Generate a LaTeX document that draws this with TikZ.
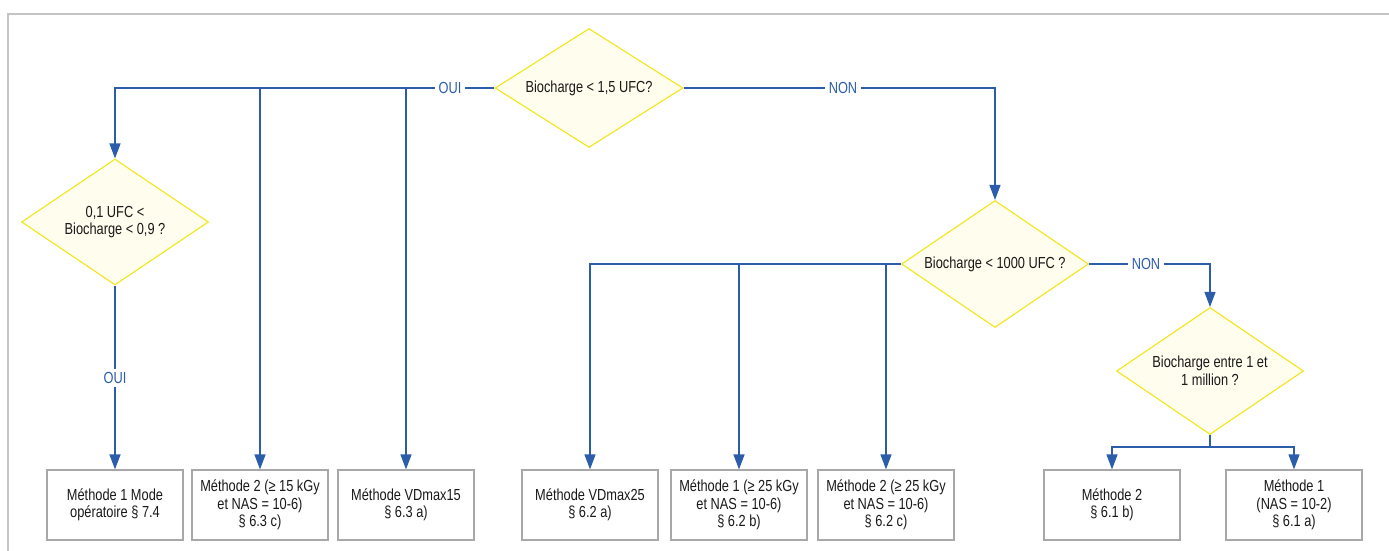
\documentclass[tikz,border=0pt]{standalone}
\usepackage{fontspec}
\setmainfont{Liberation Sans}[FakeStretch=0.8]
\usetikzlibrary{shapes.geometric,arrows.meta}
\definecolor{lineblue}{HTML}{2C5DAA}
\definecolor{dfill}{HTML}{FFFDEE}
\definecolor{dborder}{HTML}{F2E61A}
\definecolor{boxgray}{HTML}{A8A8A8}
\definecolor{framegray}{HTML}{C4C4C4}
\begin{document}
\begin{tikzpicture}[x=1pt,y=-1pt,
  every node/.style={font=\fontsize{16}{17.5}\selectfont},
  dec/.style={shape=diamond, aspect=1.5, draw=dborder, fill=dfill, line width=1.1pt, inner sep=0pt, align=center, text=black!90},
  res/.style={draw=boxgray, line width=1.2pt, minimum width=136pt, minimum height=70pt, inner sep=0pt, align=center, text=black!90},
  lab/.style={text=lineblue, inner sep=3.5pt},
  conn/.style={draw=lineblue, line width=1.3pt},
  arr/.style={conn, -{Triangle[length=15pt,width=11pt]}}]
\useasboundingbox (0,0) rectangle (1389,551);
\draw[framegray, line width=1.5pt] (8,551) -- (8,14) -- (1389,14);

% decisions
\node[dec, minimum width=188pt, minimum height=119pt] (d1) at (589,88) {Biocharge < 1,5 UFC?};
\node[dec, minimum width=187pt, minimum height=126pt] (d2) at (115,222) {0,1 UFC <\\Biocharge < 0,9 ?};
\node[dec, minimum width=187pt, minimum height=127pt] (d3) at (995,264) {Biocharge < 1000 UFC ?};
\node[dec, minimum width=187pt, minimum height=127pt] (d4) at (1210,371) {Biocharge entre 1 et\\1 million ?};

% results
\node[res] (b1) at (115,505) {Méthode 1 Mode\\opératoire § 7.4};
\node[res] (b2) at (260,505) {Méthode 2 (≥ 15 kGy\\et NAS = 10-6)\\§ 6.3 c)};
\node[res] (b3) at (406,505) {Méthode VDmax15\\§ 6.3 a)};
\node[res] (b4) at (590,505) {Méthode VDmax25\\§ 6.2 a)};
\node[res] (b5) at (739,505) {Méthode 1 (≥ 25 kGy\\et NAS = 10-6)\\§ 6.2 b)};
\node[res] (b6) at (886,505) {Méthode 2 (≥ 25 kGy\\et NAS = 10-6)\\§ 6.2 c)};
\node[res] (b7) at (1112,505) {Méthode 2\\§ 6.1 b)};
\node[res] (b8) at (1294,505) {Méthode 1\\(NAS = 10-2)\\§ 6.1 a)};

% labels
\node[lab] (oui1) at (450,88) {OUI};
\node[lab] (non1) at (843,88) {NON};
\node[lab] (oui2) at (115,378) {OUI};
\node[lab] (non2) at (1146,264) {NON};

% junctions
\coordinate (j1) at (260,88);
\coordinate (j2) at (406,88);
\coordinate (j3) at (739,264);
\coordinate (j4) at (886,264);
\coordinate (j5) at (1210,447);

% connectors
\draw[conn] (d1.west) -- (oui1.east);
\draw[arr] (oui1.west) -| (d2.north);
\draw[arr] (j1) -- (b2.north);
\draw[arr] (j2) -- (b3.north);

\draw[conn] (d2.south) -- (oui2.north);
\draw[arr] (oui2.south) -- (b1.north);

\draw[conn] (d1.east) -- (non1.west);
\draw[arr] (non1.east) -| (d3.north);

\draw[arr] (d3.west) -| (b4.north);
\draw[arr] (j3) -- (b5.north);
\draw[arr] (j4) -- (b6.north);

\draw[conn] (d3.east) -- (non2.west);
\draw[arr] (non2.east) -| (d4.north);

\draw[conn] (d4.south) -- (j5);
\draw[arr] (j5) -| (b7.north);
\draw[arr] (j5) -| (b8.north);
\end{tikzpicture}
\end{document}
